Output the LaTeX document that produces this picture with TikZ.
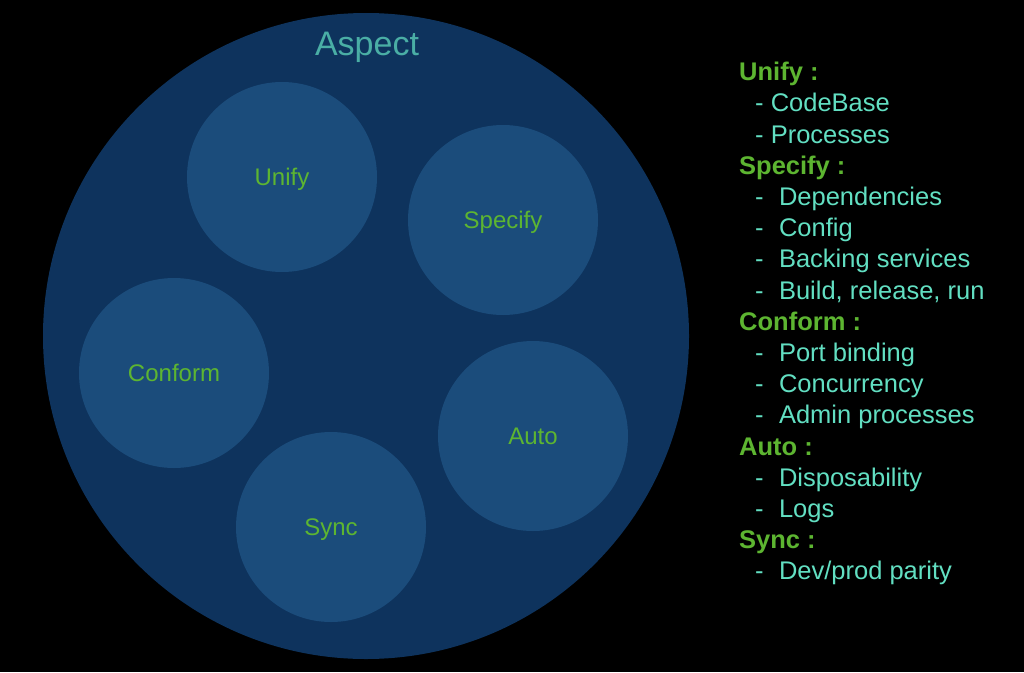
\documentclass[tikz,border=0pt]{standalone}
\usepackage{fontspec}
\setmainfont{Liberation Sans}
\definecolor{bg}{HTML}{000000}
\definecolor{outerc}{HTML}{0E335D}
\definecolor{innerc}{HTML}{1B4C7B}
\definecolor{aspectc}{HTML}{4AAEA5}
\definecolor{greenc}{HTML}{5DB531}
\definecolor{itemc}{HTML}{62DFC2}
\tikzset{
  inner/.style={circle, fill=innerc, minimum size=190pt, inner sep=0pt},
  lab/.style={anchor=base, text=greenc, font=\fontsize{24}{28}\selectfont, inner sep=0pt},
  head/.style={anchor=base west, text=greenc, font=\bfseries\fontsize{25.5}{30}\selectfont, inner sep=0pt},
  item/.style={anchor=base west, text=itemc, font=\fontsize{25.5}{30}\selectfont, inner sep=0pt},
}
\begin{document}
\begin{tikzpicture}[x=1pt,y=-1pt]
\path[fill=bg,use as bounding box] (0,0) rectangle (1024,672);
\node[circle, fill=outerc, minimum size=646pt, inner sep=0pt] (outer) at (366,336) {};
\node[anchor=base, text=aspectc, font=\fontsize{34}{40}\selectfont, inner sep=0pt] (aspect) at (367,55.5) {Aspect};
\node[inner] (unify) at (282,177) {};
\node[inner] (specify) at (503,220) {};
\node[inner] (conform) at (174,373) {};
\node[inner] (auto) at (533,436) {};
\node[inner] (sync) at (331,527) {};
\node[lab] (lunify) at ([yshift=-8.5pt]unify.center) {Unify};
\node[lab] (lspecify) at ([yshift=-8.5pt]specify.center) {Specify};
\node[lab] (lconform) at ([yshift=-8.5pt]conform.center) {Conform};
\node[lab] (lauto) at ([yshift=-8.5pt]auto.center) {Auto};
\node[lab] (lsync) at ([yshift=-8.5pt]sync.center) {Sync};
\def\dy{31.2}
\node[head] (h1) at (739,80.7) {Unify :};
\node[item] (i1) at (755,{80.7+1*\dy}) {- CodeBase};
\node[item] (i2) at (755,{80.7+2*\dy}) {- Processes};
\node[head] (h2) at (739,{80.7+3*\dy}) {Specify :};
\node[item] (i3) at (755,{80.7+4*\dy}) {-\hspace{0.6em}Dependencies};
\node[item] (i4) at (755,{80.7+5*\dy}) {-\hspace{0.6em}Config};
\node[item] (i5) at (755,{80.7+6*\dy}) {-\hspace{0.6em}Backing services};
\node[item] (i6) at (755,{80.7+7*\dy}) {-\hspace{0.6em}Build, release, run};
\node[head] (h3) at (739,{80.7+8*\dy}) {Conform :};
\node[item] (i7) at (755,{80.7+9*\dy}) {-\hspace{0.6em}Port binding};
\node[item] (i8) at (755,{80.7+10*\dy}) {-\hspace{0.6em}Concurrency};
\node[item] (i9) at (755,{80.7+11*\dy}) {-\hspace{0.6em}Admin processes};
\node[head] (h4) at (739,{80.7+12*\dy}) {Auto :};
\node[item] (i10) at (755,{80.7+13*\dy}) {-\hspace{0.6em}Disposability};
\node[item] (i11) at (755,{80.7+14*\dy}) {-\hspace{0.6em}Logs};
\node[head] (h5) at (739,{80.7+15*\dy}) {Sync :};
\node[item] (i12) at (755,{80.7+16*\dy}) {-\hspace{0.6em}Dev/prod parity};
\end{tikzpicture}
\end{document}
